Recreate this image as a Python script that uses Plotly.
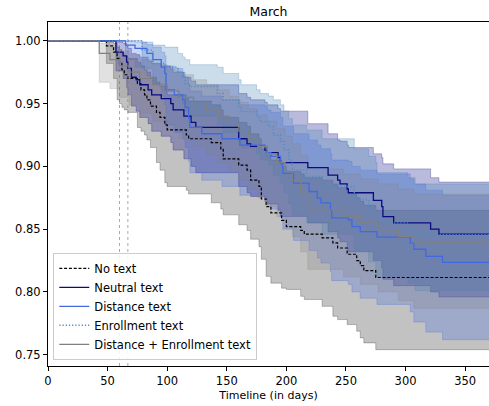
import plotly.graph_objects as go

# ---------------- data ----------------
T_MAX = 370
marker_days = [60, 67]

names = ["No text", "Neutral text", "Distance text", "Enrollment text", "Distance + Enrollment text"]

no_days = [0, 49, 55, 58, 60, 62, 64, 67, 75, 78, 81, 83, 86, 91, 94, 98, 100, 116, 118, 137, 145, 147,
           160, 167, 170, 177, 179, 183, 187, 196, 200, 212, 215, 230, 239, 243, 251, 259, 262, 265, 275]
no_surv = [1.0, .996, .991, .986, .982, .977, .973, .970, .966, .961, .957, .953, .948, .943, .939, .933, .929,
           .925, .922, .919, .914, .906, .901, .897, .889, .884, .874, .868, .863, .857, .852, .849, .846, .843,
           .839, .835, .830, .825, .821, .817, .8115]
no_lo = [1.0, .982, .970, .953, .950, .947, .945, .943, .931, .928, .925, .921, .915, .903, .897, .887, .884,
         .881, .878, .871, .866, .8614, .8535, .849, .842, .836, .826, .8124, .807, .803, .802, .7965, .794,
         .7885, .7806, .778, .774, .7687, .7634, .7594, .754]
no_hi = [1.0, .999, .998, .995, .993, .990, .988, .986, .983, .980, .977, .975, .971, .967, .964, .960, .957,
         .954, .952, .949, .945, .939, .935, .932, .926, .922, .914, .909, .905, .900, .896, .894, .891, .889,
         .886, .883, .879, .875, .872, .869, .865]

ne_days = [0, 57, 63, 66, 67, 70, 74, 77, 84, 87, 95, 103, 105, 114, 120, 124, 160, 167, 170, 182, 184, 193,
           195, 218, 235, 243, 245, 251, 252, 273, 280, 281, 290, 321, 328]
ne_surv = [1.0, .991, .988, .983, .978, .971, .969, .965, .961, .957, .954, .950, .945, .940, .935, .931, .922,
           .918, .916, .913, .911, .907, .903, .899, .893, .889, .886, .882, .879, .873, .868, .860, .855, .850, .846]
ne_lo = [1.0, .976, .970, .963, .957, .948, .944, .939, .934, .928, .924, .919, .913, .906, .900, .895, .884,
         .879, .876, .872, .870, .865, .860, .855, .848, .843, .840, .835, .832, .825, .819, .810, .805, .800, .796]
ne_hi = [1.0, .999, .998, .996, .994, .990, .989, .987, .984, .982, .980, .978, .975, .971, .968, .965, .958,
         .955, .953, .951, .949, .946, .944, .934, .926, .921, .920, .917, .915, .910, .907, .902, .898, .891, .8875]

di_days = [0, 65, 73, 83, 88, 95, 98, 99, 106, 113, 115, 118, 119, 129, 146, 161, 182, 184, 187, 195, 197,
           206, 219, 226, 229, 237, 238, 252, 255, 262, 276, 304, 307, 317, 331]
di_surv = [1.0, .9966, .994, .990, .985, .979, .974, .961, .957, .953, .947, .9385, .931, .926, .922, .917,
           .915, .911, .908, .903, .8945, .8866, .880, .8747, .871, .8654, .859, .8575, .852, .848, .8437,
           .839, .834, .8283, .8235]
di_lo = [1.0, .985, .979, .972, .965, .956, .949, .933, .927, .922, .915, .904, .895, .889, .884, .877, .875,
         .870, .866, .860, .850, .841, .833, .827, .823, .816, .809, .806, .800, .795, .790, .784, .776, .768, .762]
di_hi = [1.0, .9995, .999, .997, .995, .991, .988, .980, .978, .975, .971, .965, .960, .956, .953, .949, .948,
         .945, .943, .939, .932, .926, .921, .917, .914, .910, .905, .904, .900, .897, .894, .890, .886, .881, .877]

en_days = [0, 79, 88, 98, 109, 113, 115, 119, 142, 147, 160, 162, 175, 178, 185, 189, 195, 198, 202, 205,
           217, 230, 257, 269, 275, 276, 302, 308]
en_surv = [1.0, .9926, .982, .979, .9753, .9714, .966, .9635, .958, .953, .9475, .9436, .9396, .9356, .9317,
           .925, .920, .913, .905, .8972, .8919, .884, .8734, .8654, .8575, .855, .851, .8455]
en_lo = [1.0, .978, .966, .961, .955, .950, .944, .940, .933, .927, .920, .915, .910, .905, .901, .893, .887,
         .879, .870, .861, .855, .846, .833, .824, .815, .812, .807, .801]
en_hi = [1.0, .999, .9966, .995, .990, .987, .985, .981, .979, .974, .969, .965, .961, .958, .956, .953, .949,
         .944, .938, .933, .929, .922, .914, .908, .903, .895, .891, .886]

de_days = [0, 43, 52, 60, 68, 77, 88, 100, 110, 122, 133, 143, 152, 160, 168, 176, 184, 192, 199, 205, 212,
           218, 248, 262, 277, 294, 307]
de_surv = [1.0, .990, .985, .980, .975, .970, .965, .960, .955, .950, .945, .940, .934, .928, .922, .916, .910,
           .903, .896, .889, .878, .8654, .860, .855, .8495, .844, .839]
de_lo = [1.0, .967, .962, .955, .949, .942, .936, .929, .922, .916, .909, .903, .896, .889, .882, .875, .868,
         .860, .852, .844, .832, .818, .812, .806, .800, .793, .787]
de_hi = [1.0, .998, .995, .992, .989, .985, .981, .977, .973, .969, .965, .961, .956, .951, .946, .941, .936,
         .930, .924, .918, .909, .898, .894, .890, .886, .882, .878]

series_days = [no_days, ne_days, di_days, en_days, de_days]
series_surv = [no_surv, ne_surv, di_surv, en_surv, de_surv]
series_lo = [no_lo, ne_lo, di_lo, en_lo, de_lo]
series_hi = [no_hi, ne_hi, di_hi, en_hi, de_hi]

x_ticks = [0, 50, 100, 150, 200, 250, 300, 350]
y_ticks = [0.75, 0.80, 0.85, 0.90, 0.95, 1.00]

# ---------------- styles ----------------
rgb = [(0, 0, 0), (0, 0, 128), (65, 105, 225), (70, 130, 180), (128, 128, 128)]
band_alpha = [0.24, 0.27, 0.27, 0.28, 0.24]
line_rgb = [(0, 0, 0), (10, 10, 130), (65, 105, 225), (80, 140, 195), (128, 128, 128)]
dashes = ["3px,1.8px", "solid", "solid", "1.2px,2px", "solid"]
widths = [1.2, 1.3, 1.3, 1.4, 1.2]
FONT = "DejaVu Sans"


def ext(days, vals):
    return list(days) + [T_MAX], list(vals) + [vals[-1]]


fig = go.Figure()

# confidence bands
for i in range(5):
    r, g, b = rgb[i]
    a = band_alpha[i]
    xs, hi = ext(series_days[i], series_hi[i])
    _, lo = ext(series_days[i], series_lo[i])
    fig.add_trace(go.Scatter(x=xs, y=hi, mode="lines", line_shape="hv",
                             line=dict(color=f"rgba({r},{g},{b},{a})", width=1),
                             showlegend=False, hoverinfo="skip"))
    fig.add_trace(go.Scatter(x=xs, y=lo, mode="lines", line_shape="hv", fill="tonexty",
                             fillcolor=f"rgba({r},{g},{b},{a})",
                             line=dict(color=f"rgba({r},{g},{b},{a})", width=1),
                             showlegend=False, hoverinfo="skip"))

# survival curves
for i in range(5):
    r, g, b = line_rgb[i]
    xs, ys = ext(series_days[i], series_surv[i])
    fig.add_trace(go.Scatter(x=xs, y=ys, mode="lines", line_shape="hv", name=names[i],
                             line=dict(color=f"rgb({r},{g},{b})", width=widths[i], dash=dashes[i])))

for d in marker_days:
    fig.add_shape(type="line", x0=d, x1=d, xref="x", y0=0, y1=1, yref="paper",
                  line=dict(color="rgba(120,120,120,0.8)", width=0.8, dash="dot"))

fig.update_layout(
    width=489, height=406,
    margin=dict(l=48, r=0, t=22, b=40),
    paper_bgcolor="white", plot_bgcolor="white",
    font=dict(family=FONT, size=11, color="black"),
    title=dict(text="March", x=(48 + 489) / 2 / 489, xanchor="center", y=1 - 12 / 406, yanchor="middle",
               font=dict(size=12.5, family=FONT, color="black")),
    showlegend=True,
    legend=dict(x=0.012, y=0.018, xanchor="left", yanchor="bottom", traceorder="normal",
                bgcolor="rgba(255,255,255,0.85)", bordercolor="#cccccc", borderwidth=1,
                font=dict(size=11.5, family=FONT), tracegroupgap=0),
)
fig.update_xaxes(range=[0, T_MAX], tickvals=x_ticks, ticks="outside", ticklen=4, tickcolor="black",
                 showline=True, linecolor="black", linewidth=1, mirror=True, showgrid=False, zeroline=False,
                 tickfont=dict(size=11.5),
                 title=dict(text="Timeline (in days)", font=dict(size=11), standoff=4))
fig.update_yaxes(range=[0.741, 1.015], tickvals=y_ticks, tickformat=".2f", ticks="outside", ticklen=4,
                 tickcolor="black", showline=True, linecolor="black", linewidth=1, mirror=True,
                 showgrid=False, zeroline=False, tickfont=dict(size=11.5))

fig.write_html("out.html")
